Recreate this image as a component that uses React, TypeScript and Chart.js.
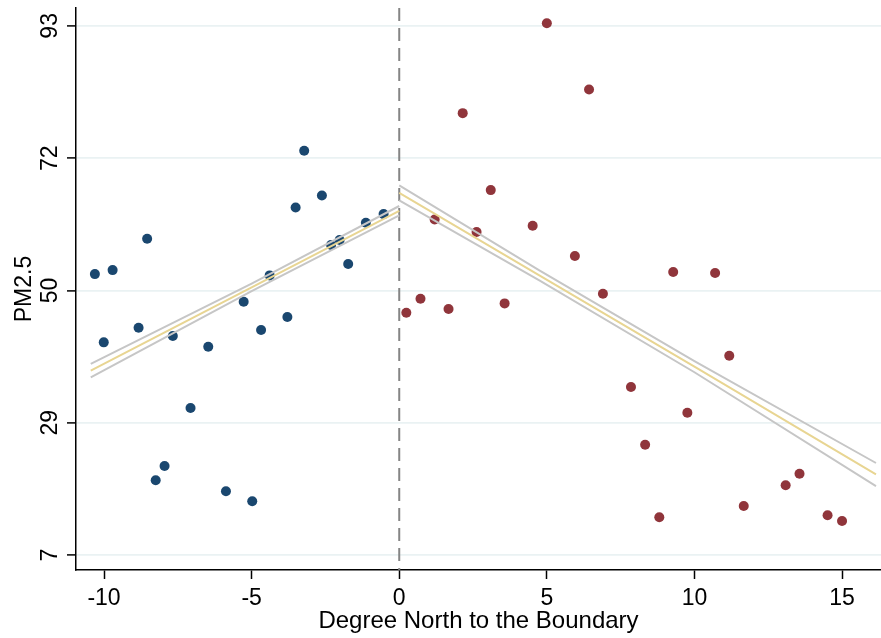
import { useEffect, useRef } from "react";
import { Chart, registerables } from "chart.js";

Chart.register(...registerables);

// Observations north of the boundary is positive x
const blueX = [-10.31, -10.01, -9.71, -8.83, -8.54, -8.25, -7.95, -7.67, -7.07, -6.47, -5.87, -5.27, -4.98, -4.68, -4.39, -3.79, -3.51, -3.22, -2.62, -2.31, -2.02, -1.73, -1.13, -0.53];
const blueY = [52.65, 41.56, 53.3, 43.93, 58.39, 19.14, 21.46, 42.58, 30.88, 40.84, 17.35, 48.15, 15.72, 43.56, 52.44, 45.67, 63.49, 72.69, 65.44, 57.37, 58.18, 54.28, 60.99, 62.4];

const redX = [0.24, 0.72, 1.2, 1.67, 2.15, 2.62, 3.1, 3.57, 4.52, 5.0, 5.95, 6.43, 6.9, 7.85, 8.33, 8.81, 9.28, 9.76, 10.7, 11.18, 11.67, 13.09, 13.56, 14.51, 15.0];
const redY = [46.37, 48.64, 61.54, 46.97, 78.81, 59.48, 66.3, 47.89, 60.5, 93.43, 55.58, 82.66, 49.45, 34.29, 24.92, 13.13, 52.98, 30.12, 52.82, 39.38, 14.96, 18.32, 20.21, 13.45, 12.52];

// Fitted lines with confidence bounds
const leftFitX = [-10.45, -5, 0];
const leftFitY = [36.95, 50.5, 62.94];
const leftUpperY = [38.05, 51.1, 63.72];
const leftLowerY = [35.85, 49.9, 62.18];

const rightFitX = [0, 4.76, 10, 16.15];
const rightFitY = [65.86, 52.4, 37.6, 20.1];
const rightUpperY = [67.08, 53.21, 38.5, 21.95];
const rightLowerY = [64.64, 51.59, 36.7, 18.2];

const yTickValues = [7, 28.5, 50, 71.5, 93];
const xTickValues = [-10, -5, 0, 5, 10, 15];
const boundaryX = 0;

const xTitle = "Degree North to the Boundary";
const yTitle = "PM2.5";

const FONT = '"Liberation Sans", Arial, sans-serif';

const zip = (xs: number[], ys: number[]) => xs.map((x, i) => ({ x, y: ys[i] }));

const boundaryPlugin = {
  id: "boundary",
  beforeDatasetsDraw(chart: any) {
    const { ctx, chartArea, scales } = chart;
    const px = scales.x.getPixelForValue(boundaryX);
    ctx.save();
    ctx.strokeStyle = "#858585";
    ctx.lineWidth = 2;
    ctx.setLineDash([13, 7]);
    ctx.beginPath();
    ctx.moveTo(px, chartArea.top);
    ctx.lineTo(px, chartArea.bottom);
    ctx.stroke();
    ctx.restore();
  },
};

const yTickLabelPlugin = {
  id: "yTickLabels",
  afterDraw(chart: any) {
    const { ctx, scales } = chart;
    const s = scales.y;
    ctx.save();
    ctx.font = `23px ${FONT}`;
    ctx.fillStyle = "#000";
    ctx.textAlign = "center";
    ctx.textBaseline = "alphabetic";
    s.ticks.forEach((t: any) => {
      const py = s.getPixelForValue(t.value);
      ctx.save();
      ctx.translate(s.right - 19.5, py);
      ctx.rotate(-Math.PI / 2);
      ctx.fillText(String(Math.round(t.value)), 0, 0);
      ctx.restore();
    });
    ctx.restore();
  },
};

export default function App() {
  const ref = useRef<HTMLCanvasElement | null>(null);

  useEffect(() => {
    if (!ref.current) return;
    const lineDs = (data: any, color: string) => ({
      type: "scatter" as const,
      data,
      showLine: true,
      borderColor: color,
      borderWidth: 2,
      pointRadius: 0,
      tension: 0,
      order: 0,
    });
    const chart = new Chart(ref.current, {
      type: "scatter",
      data: {
        datasets: [
          lineDs(zip(leftFitX, leftUpperY), "#c6c6c6"),
          lineDs(zip(leftFitX, leftLowerY), "#c6c6c6"),
          lineDs(zip(leftFitX, leftFitY), "#e8d592"),
          lineDs(zip(rightFitX, rightUpperY), "#c6c6c6"),
          lineDs(zip(rightFitX, rightLowerY), "#c6c6c6"),
          lineDs(zip(rightFitX, rightFitY), "#e8d592"),
          {
            data: zip(blueX, blueY),
            backgroundColor: "#1a476f",
            borderWidth: 0,
            pointRadius: 5,
            order: 1,
          },
          {
            data: zip(redX, redY),
            backgroundColor: "#90353b",
            borderWidth: 0,
            pointRadius: 5,
            order: 1,
          },
        ],
      },
      options: {
        responsive: false,
        animation: false,
        layout: { autoPadding: false, padding: { top: 8, right: 0, left: 0, bottom: 0 } },
        plugins: { legend: { display: false }, tooltip: { enabled: false } },
        scales: {
          x: {
            type: "linear",
            min: -10.95,
            max: 16.32,
            afterBuildTicks: (s: any) => {
              s.ticks = xTickValues.map((v) => ({ value: v }));
            },
            afterFit: (s: any) => {
              s.height = 68;
              s.paddingLeft = 0;
              s.paddingRight = 0;
            },
            grid: {
              drawOnChartArea: false,
              drawTicks: true,
              tickLength: 9,
              tickColor: "#000",
              tickWidth: 1.5,
            },
            border: { display: true, color: "#000", width: 1.5 },
            ticks: {
              color: "#000",
              font: { family: FONT, size: 23 },
              padding: 6,
              maxRotation: 0,
              callback: (v: any) => String(v),
            },
            title: {
              display: true,
              text: xTitle,
              color: "#000",
              font: { family: FONT, size: 24 },
              padding: { top: 0, bottom: 2 },
            },
          },
          y: {
            type: "linear",
            min: 4.56,
            max: 95.9,
            afterBuildTicks: (s: any) => {
              s.ticks = yTickValues.map((v) => ({ value: v }));
            },
            afterFit: (s: any) => {
              s.width = 76;
            },
            grid: {
              color: "#eaf2f3",
              lineWidth: 1.8,
              drawTicks: true,
              tickLength: 9,
              tickColor: "#000",
              tickWidth: 1.5,
            },
            border: { display: true, color: "#000", width: 1.5 },
            ticks: { display: false },
            title: {
              display: true,
              text: yTitle,
              color: "#000",
              font: { family: FONT, size: 23 },
              padding: { top: 11, bottom: 0 },
            },
          },
        },
      },
      plugins: [boundaryPlugin, yTickLabelPlugin],
    });
    return () => chart.destroy();
  }, []);

  return (
    <div style={{ position: "absolute", left: 0, top: 0, width: 881, height: 638, background: "#fff" }}>
      <canvas ref={ref} width={881} height={638} />
    </div>
  );
}
